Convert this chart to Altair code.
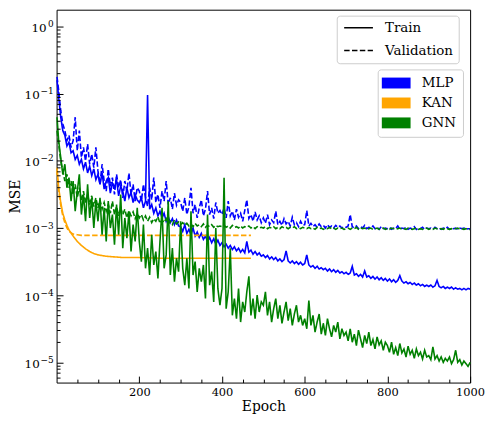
import altair as alt
import pandas as pd

epochs = [1] + list(range(5, 1001, 5))

mlp_train_log10 = [
    -0.80, -1.05, -1.35, -1.55, -1.62, -1.78, -1.72, -1.88, -1.85, -1.98, -1.92, -2.05, -1.98, -2.12, -2.02, -2.18, -2.08, -2.22, -2.12, -2.28,
    -2.20, -2.35, -2.18, -2.42, -2.30, -2.25, -2.48, -2.33, -2.40, -2.28, -2.52, -2.38, -2.45, -2.60, -2.40, -2.55, -2.47, -2.62, -2.50, -2.58,
    -2.62, -2.55, -2.70, -2.60, -1.02, -2.72, -2.65, -2.78, -2.70, -2.82, -2.75, -2.85, -2.78, -2.90, -2.83, -2.92, -2.86, -2.95, -2.88, -2.97,
    -2.98, -3.05, -2.95, -3.08, -3.02, -3.10, -3.00, -3.12, -3.06, -3.14, -3.08, -3.17, -3.12, -3.20, -3.14, -3.22, -3.16, -3.24, -3.18, -3.26,
    -3.22, -3.28, -3.24, -3.30, -3.26, -3.32, -3.28, -3.34, -3.30, -3.36, -3.32, -3.37, -3.20, -3.36, -3.33, -3.39, -3.35, -3.40, -3.37, -3.42,
    -3.40, -3.44, -3.41, -3.46, -3.43, -3.47, -3.44, -3.49, -3.46, -3.50, -3.47, -3.34, -3.49, -3.52, -3.49, -3.53, -3.50, -3.54, -3.51, -3.55,
    -3.53, -3.40, -3.55, -3.58, -3.56, -3.60, -3.57, -3.61, -3.59, -3.62, -3.60, -3.64, -3.61, -3.65, -3.62, -3.66, -3.63, -3.67, -3.65, -3.68,
    -3.66, -3.69, -3.67, -3.57, -3.70, -3.68, -3.72, -3.69, -3.73, -3.64, -3.73, -3.71, -3.75, -3.72, -3.76, -3.73, -3.77, -3.74, -3.78, -3.75,
    -3.79, -3.76, -3.80, -3.77, -3.81, -3.78, -3.71, -3.79, -3.82, -3.80, -3.83, -3.81, -3.84, -3.82, -3.85, -3.83, -3.86, -3.84, -3.87, -3.85,
    -3.87, -3.85, -3.88, -3.86, -3.78, -3.87, -3.89, -3.87, -3.90, -3.88, -3.90, -3.88, -3.91, -3.89, -3.91, -3.90, -3.92, -3.90, -3.92, -3.90,
    -3.91,
]
mlp_val_log10 = [
    -0.75, -0.95, -1.25, -1.45, -1.55, -1.70, -1.62, -1.80, -1.70, -1.35, -1.85, -1.55, -1.95, -1.80, -2.00, -1.75, -2.05, -1.90, -2.10, -1.80,
    -2.15, -2.35, -2.05, -2.30, -2.45, -2.12, -2.38, -2.25, -2.50, -2.20, -2.40, -2.28, -2.55, -2.30, -2.45, -2.18, -2.50, -2.35, -2.60, -2.40,
    -2.45, -2.60, -2.35, -2.55, -2.68, -2.40, -2.58, -2.25, -2.62, -2.50, -2.70, -2.45, -2.60, -2.30, -2.65, -2.55, -2.72, -2.48, -2.66, -2.58,
    -2.62, -2.75, -2.55, -2.80, -2.68, -2.40, -2.78, -2.65, -2.85, -2.70, -2.58, -2.82, -2.72, -2.45, -2.80, -2.70, -2.86, -2.62, -2.78, -2.74,
    -2.80, -2.70, -2.85, -2.60, -2.82, -2.75, -2.88, -2.72, -2.84, -2.78, -2.90, -2.74, -2.58, -2.86, -2.80, -2.90, -2.76, -2.88, -2.82, -2.92,
    -2.85, -2.93, -2.80, -2.95, -2.88, -2.92, -2.75, -2.95, -2.90, -2.96, -2.86, -2.94, -2.90, -2.97, -2.84, -2.95, -2.92, -2.98, -2.90, -2.96,
    -2.95, -2.74, -2.97, -2.93, -2.98, -2.95, -2.99, -2.94, -2.98, -2.96, -3.00, -2.95, -2.99, -2.97, -3.00, -2.96, -2.99, -2.97, -3.00, -2.98,
    -2.99, -2.97, -2.80, -2.98, -3.00, -2.97, -3.01, -2.98, -3.00, -2.96, -3.01, -2.99, -3.00, -2.97, -3.01, -2.99, -3.02, -2.98, -3.01, -3.00,
    -3.01, -2.99, -3.02, -3.00, -3.01, -2.97, -3.02, -3.00, -3.01, -2.99, -3.02, -3.00, -3.01, -2.98, -3.02, -3.00, -3.01, -2.99, -3.02, -3.00,
    -3.01, -3.00, -3.02, -2.99, -3.01, -3.00, -3.02, -3.00, -3.01, -2.99, -3.02, -3.00, -3.01, -3.00, -3.02, -3.00, -3.01, -3.00, -3.02, -3.01,
    -3.01,
]
gnn_train_log10 = [
    -1.35, -1.70, -1.95, -2.20, -2.05, -2.40, -2.25, -2.60, -2.30, -2.75, -2.45, -2.20, -2.80, -2.50, -2.90, -2.35, -2.85, -2.55, -3.00, -2.60,
    -2.90, -2.55, -3.10, -2.70, -3.20, -2.60, -3.00, -2.80, -3.25, -2.65, -3.10, -2.50, -3.30, -2.85, -3.15, -2.75, -3.35, -2.95, -3.20, -2.70,
    -3.20, -3.50, -2.95, -3.60, -3.30, -3.70, -3.10, -3.55, -3.35, -3.75, -3.20, -2.70, -3.60, -3.40, -2.60, -3.70, -3.30, -3.80, -3.45, -3.65,
    -2.90, -3.60, -3.85, -3.45, -3.90, -2.75, -3.70, -3.50, -3.95, -3.60, -3.80, -3.55, -4.05, -2.80, -3.85, -3.65, -4.10, -3.00, -3.90, -4.15,
    -3.90, -2.25, -4.20, -3.95, -3.30, -4.30, -4.05, -4.35, -3.90, -4.40, -4.10, -4.25, -3.95, -3.72, -4.30, -4.05, -4.35, -4.00, -4.25, -4.10,
    -4.15, -3.95, -4.30, -4.10, -4.40, -4.20, -4.05, -4.35, -4.15, -4.42, -4.25, -4.10, -4.38, -4.20, -4.45, -4.28, -4.15, -4.40, -4.30, -4.45,
    -4.35, -4.50, -4.08, -4.45, -4.30, -4.55, -4.40, -4.28, -4.58, -4.42, -4.60, -4.35, -4.50, -4.62, -4.45, -4.55, -4.40, -4.65, -4.50, -4.60,
    -4.55, -4.68, -4.50, -4.70, -4.58, -4.75, -4.52, -4.65, -4.78, -4.60, -4.72, -4.55, -4.75, -4.66, -4.80, -4.62, -4.74, -4.68, -4.82, -4.70,
    -4.75, -4.85, -4.70, -4.88, -4.78, -4.90, -4.72, -4.86, -4.80, -4.92, -4.76, -4.88, -4.82, -4.94, -4.80, -4.90, -4.85, -4.95, -4.82, -4.92,
    -4.90, -4.96, -4.77, -4.95, -4.90, -4.98, -4.92, -5.00, -4.94, -4.98, -4.92, -5.02, -4.96, -4.82, -5.00, -4.96, -5.04, -4.98, -5.02, -5.06,
    -5.00,
]
gnn_val_log10 = [
    -1.55, -1.75, -2.00, -2.15, -2.30, -2.20, -2.40, -2.30, -2.50, -2.35, -2.55, -2.40, -2.60, -2.45, -2.62, -2.50, -2.65, -2.52, -2.68, -2.55,
    -2.70, -2.58, -2.72, -2.62, -2.75, -2.65, -2.78, -2.60, -2.80, -2.68, -2.82, -2.70, -2.80, -2.72, -2.85, -2.74, -2.82, -2.76, -2.86, -2.78,
    -2.85, -2.80, -2.88, -2.82, -2.90, -2.84, -2.92, -2.86, -2.90, -2.83, -2.93, -2.88, -2.92, -2.86, -2.94, -2.90, -2.95, -2.88, -2.94, -2.91,
    -2.95, -2.92, -2.96, -2.93, -2.97, -2.94, -2.98, -2.93, -2.97, -2.95, -2.98, -2.94, -2.99, -2.96, -2.98, -2.95, -2.99, -2.96, -2.98, -2.97,
    -2.98, -2.96, -2.99, -2.97, -3.00, -2.96, -2.99, -2.98, -3.00, -2.97, -3.00, -2.98, -2.99, -2.97, -3.00, -2.98, -3.01, -2.98, -3.00, -2.99,
    -3.00, -2.98, -3.01, -2.99, -3.00, -2.98, -3.01, -2.99, -3.01, -2.98, -3.00, -2.99, -3.01, -2.99, -3.00, -2.98, -3.01, -3.00, -3.01, -2.99,
    -3.00, -3.01, -2.99, -3.01, -3.00, -3.02, -2.99, -3.01, -3.00, -3.02, -3.00, -3.01, -2.99, -3.01, -3.00, -3.02, -3.00, -3.01, -3.00, -3.02,
    -3.01, -3.00, -3.02, -3.00, -3.01, -2.99, -3.02, -3.00, -3.01, -3.00, -3.02, -3.01, -3.00, -3.02, -3.01, -3.00, -3.02, -3.01, -3.00, -3.02,
    -3.01, -3.02, -3.00, -3.01, -3.02, -3.01, -3.00, -3.02, -3.01, -3.02, -3.00, -3.01, -3.02, -3.01, -3.00, -3.02, -3.01, -3.02, -3.01, -3.00,
    -3.02, -3.01, -3.02, -3.00, -3.01, -3.02, -3.01, -3.02, -3.00, -3.01, -3.02, -3.01, -3.02, -3.01, -3.00, -3.02, -3.01, -3.02, -3.01, -3.02,
    -3.02,
]
kan_epochs = [1, 5, 10, 15, 20, 25, 30, 40, 50, 60, 70, 80, 90, 100, 120, 140, 160, 180, 200, 250, 300, 350, 400, 450, 470]
kan_train_log10 = [-2.10, -2.40, -2.62, -2.78, -2.88, -2.96, -3.03, -3.12, -3.20, -3.26, -3.31, -3.35, -3.38, -3.40, -3.42,
                   -3.43, -3.44, -3.44, -3.44, -3.45, -3.45, -3.45, -3.45, -3.45, -3.45]
kan_val_log10 = [-2.15, -2.45, -2.66, -2.82, -2.92, -3.00, -3.05, -3.09, -3.10, -3.11, -3.11, -3.11, -3.11, -3.11, -3.11,
                 -3.11, -3.11, -3.11, -3.11, -3.11, -3.11, -3.11, -3.11, -3.11, -3.11]

models = ["MLP", "KAN", "GNN"]
model_colors = ["#0000ff", "#ffa500", "#008000"]
splits = ["Train", "Validation"]

x_major = [200, 400, 600, 800, 1000]
x_minor = [50, 100, 150, 250, 300, 350, 450, 500, 550, 650, 700, 750, 850, 900, 950]
y_major = [1e-5, 1e-4, 1e-3, 1e-2, 1e-1, 1.0]
y_major_exponents = ["−5", "−4", "−3", "−2", "−1", "0"]
y_minor = [m * 10.0 ** k for k in range(-6, 0) for m in range(2, 10) if 5e-6 <= m * 10.0 ** k <= 1.7]

series = [
    ("MLP", "Train", epochs, mlp_train_log10),
    ("MLP", "Validation", epochs, mlp_val_log10),
    ("KAN", "Train", kan_epochs, kan_train_log10),
    ("KAN", "Validation", kan_epochs, kan_val_log10),
    ("GNN", "Train", epochs, gnn_train_log10),
    ("GNN", "Validation", epochs, gnn_val_log10),
]
rows = []
for order, (model, split, ep, vals) in enumerate(series):
    assert len(ep) == len(vals), (model, split, len(ep), len(vals))
    for e, v in zip(ep, vals):
        rows.append({"epoch": e, "mse": 10.0 ** v, "model": model, "split": split, "order": order})
df = pd.DataFrame(rows)

parts = []
for val, lab in zip(y_major, y_major_exponents):
    parts.append(f"datum.value > {val * 0.5} && datum.value < {val * 2} ? '{lab}'")
exp_expr = " : ".join(parts) + " : ''"

FONT = "DejaVu Serif"
x_scale = alt.Scale(domain=[0, 1000], nice=False)
y_scale = alt.Scale(type="log", domain=[5e-6, 1.78], nice=False)
box = dict(fillColor="rgba(255,255,255,0.8)", strokeColor="#cccccc", cornerRadius=3)
color_scale = alt.Scale(domain=models, range=model_colors)
major_tick = dict(tickSize=6.5, offset=-6.5, domain=False, grid=False, labelFlush=False, zindex=1)

# invisible filled marks: gives the model legend filled colour patches, and carries the 10^0 tick
legend_helper = alt.Chart(df).mark_point(filled=True, opacity=0, size=1).encode(
    x=alt.X("epoch:Q", scale=x_scale, axis=None),
    y=alt.Y("mse:Q", scale=y_scale,
            axis=alt.Axis(orient="left", values=y_major[-1:], labelExpr="'10'", labelPadding=10.5,
                          labelFontSize=12, labelOffset=1, title=None, **major_tick)),
    color=alt.Color("model:N", scale=color_scale,
                    legend=alt.Legend(orient="none", legendX=323.8, legendY=60.2, title=None,
                                      symbolType="M-2.4,-1.375L4.85,-1.375L4.85,1.375L-2.4,1.375Z",
                                      symbolSize=64, symbolStrokeWidth=0, symbolOpacity=1,
                                      labelOffset=24, padding=7, rowPadding=5.1, **box)),
)

lines = alt.Chart(df).mark_line(strokeWidth=1.6).encode(
    x=alt.X("epoch:Q", scale=x_scale,
            axis=alt.Axis(orient="bottom", values=x_major, format="d", labelPadding=4,
                          title="Epoch", titlePadding=2, **major_tick)),
    y=alt.Y("mse:Q", scale=y_scale,
            axis=alt.Axis(orient="left", values=y_major[:-1], labelExpr="'10'", labelPadding=17.5,
                          labelFontSize=12, labelOffset=1, title="MSE", titlePadding=2, **major_tick)),
    color=alt.Color("model:N", scale=color_scale),
    strokeDash=alt.StrokeDash("split:N", scale=alt.Scale(domain=splits, range=[[1, 0], [5.5, 2.4]]),
                              legend=alt.Legend(orient="none", legendX=282.5, legendY=6, title=None,
                                                symbolType="M-1.19,0L6.06,0", symbolSize=64,
                                                symbolStrokeWidth=1.5, symbolStrokeColor="black",
                                                labelOffset=29.7, padding=5.5, rowPadding=8, **box)),
    order=alt.Order("order:Q"),
)

exponents = alt.Chart(df).mark_point(opacity=0, size=1).encode(
    x=alt.X("epoch:Q", scale=x_scale, axis=None),
    y=alt.Y("mse:Q", scale=y_scale,
            axis=alt.Axis(orient="left", values=y_major, labelExpr=exp_expr, ticks=False,
                          domain=False, grid=False, labelPadding=3.5, labelFlush=False,
                          labelFontSize=9, labelOffset=-3, title=None, zindex=1)),
)

minor = alt.Chart(df).mark_point(opacity=0, size=1).encode(
    x=alt.X("epoch:Q", scale=x_scale,
            axis=alt.Axis(orient="bottom", values=x_minor, tickSize=3.5, offset=-3.5, labels=False,
                          domain=False, grid=False, title=None, zindex=1)),
    y=alt.Y("mse:Q", scale=y_scale,
            axis=alt.Axis(orient="left", values=y_minor, tickSize=3.5, offset=-3.5, labels=False,
                          domain=False, grid=False, title=None, zindex=1)),
)

chart = alt.layer(legend_helper, lines, exponents, minor).resolve_axis(
    x="independent", y="independent"
).properties(
    width=417, height=376, padding={"left": 0, "top": 0, "right": 0, "bottom": 0}
).configure_view(stroke="black", strokeWidth=1).configure_axis(
    labelFont=FONT, labelFontSize=11.5, labelColor="black", tickColor="black", tickWidth=1,
    titleFont=FONT, titleFontSize=14, titleFontWeight="normal", titleColor="black"
).configure_legend(
    labelFont=FONT, labelFontSize=13.5, labelColor="black"
)

chart.save("out.html", embed_options={"renderer": "svg", "actions": False})
